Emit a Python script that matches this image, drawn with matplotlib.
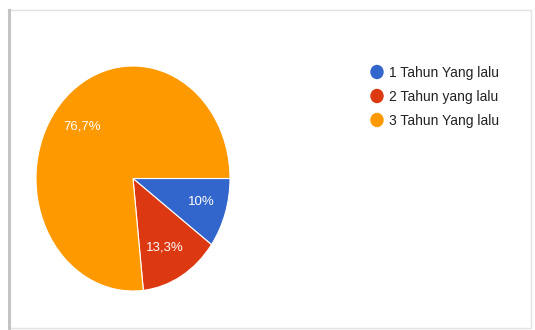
import matplotlib.pyplot as plt
from matplotlib.patches import Rectangle, Ellipse
from matplotlib.lines import Line2D

labels = ["1 Tahun Yang lalu", "2 Tahun yang lalu", "3 Tahun Yang lalu"]
values = [10.0, 13.3, 76.7]
pct_text = ["10%", "13,3%", "76,7%"]
colors = ["#3366CC", "#DC3912", "#FF9900"]

plt.rcParams['font.family'] = ['Liberation Sans', 'DejaVu Sans']

W, H = 535, 330
fig = plt.figure(figsize=(W / 100, H / 100), dpi=100)
fig.patch.set_facecolor("white")

# card frame
fig.add_artist(Rectangle((9 / W, 1 - 328 / H), (531 - 9) / W, (328 - 10) / H,
                         transform=fig.transFigure, fill=False,
                         edgecolor="#e2e2e2", linewidth=1.0))
fig.add_artist(Line2D([9 / W, 9 / W], [1 - 328 / H, 1 - 10 / H],
                      transform=fig.transFigure, color="#c4c4c4", linewidth=2.2))

# pie, stretched vertically like the screenshot
ax = fig.add_axes([36 / W, 1 - 291 / H, 194 / W, 225 / H])
wedges, texts = ax.pie(values, colors=colors, startangle=0, counterclock=False,
                       wedgeprops=dict(edgecolor="white", linewidth=0.8))
ax.set_aspect('auto')
ax.set_xlim(-1, 1)
ax.set_ylim(-1, 1)

label_pos = [(0.70, -0.21), (0.33, -0.61), (-0.52, 0.46)]
for txt, (x, y) in zip(pct_text, label_pos):
    ax.text(x, y, txt, color="white", fontsize=9.5, ha="center", va="center")

# legend
for i, (lab, col) in enumerate(zip(labels, colors)):
    yp = 72 + 24 * i
    fig.add_artist(Ellipse((377 / W, 1 - yp / H), 12 / W, 13 / H,
                           transform=fig.transFigure, color=col))
    fig.text(389 / W, 1 - (yp + 0.5) / H, lab, color="#222222", fontsize=10,
             ha="left", va="center")

fig.savefig("out.png", dpi=100)
